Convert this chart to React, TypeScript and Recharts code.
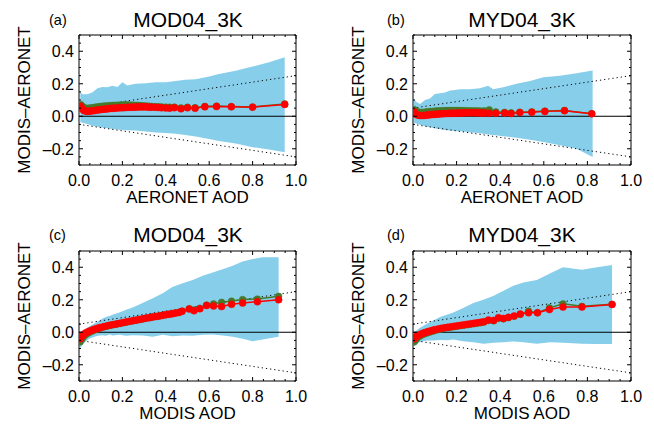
import React from 'react';
import { ComposedChart, Area, Line, XAxis, YAxis, ReferenceLine, Label } from 'recharts';

const FONT = "'Liberation Sans', Arial, Helvetica, sans-serif";

// axis ticks
const xTicks = [0, 0.05, 0.1, 0.15, 0.2, 0.25, 0.3, 0.35, 0.4, 0.45, 0.5, 0.55, 0.6, 0.65, 0.7, 0.75, 0.8, 0.85, 0.9, 0.95, 1.0];
const yTicks = [-0.3, -0.25, -0.2, -0.15, -0.1, -0.05, 0, 0.05, 0.1, 0.15, 0.2, 0.25, 0.3, 0.35, 0.4, 0.45, 0.5];
const xMajor = [0, 0.2, 0.4, 0.6, 0.8, 1.0];
const yMajor = [-0.2, 0, 0.2, 0.4];

// expected-error envelope
const eeX = [0, 1];
const eeUpper = [0.05, 0.25];
const eeLower = [-0.05, -0.25];

// panel (a)
const aBandX = [0.006, 0.015, 0.038, 0.061, 0.085, 0.108, 0.13, 0.154, 0.177, 0.2, 0.223, 0.26, 0.307, 0.353, 0.4, 0.445, 0.49, 0.538, 0.6, 0.645, 0.722, 0.8, 0.876, 0.948];
const aBandHi = [0.152, 0.135, 0.135, 0.146, 0.172, 0.18, 0.178, 0.187, 0.18, 0.21, 0.19, 0.2, 0.203, 0.21, 0.21, 0.217, 0.224, 0.228, 0.244, 0.26, 0.28, 0.306, 0.332, 0.363];
const aBandLo = [-0.035, -0.04, -0.047, -0.058, -0.064, -0.07, -0.074, -0.078, -0.082, -0.084, -0.086, -0.088, -0.094, -0.1, -0.103, -0.107, -0.115, -0.125, -0.14, -0.152, -0.168, -0.19, -0.205, -0.222];
const aLineX = [0.008, 0.015, 0.022, 0.03, 0.038, 0.046, 0.055, 0.065, 0.075, 0.085, 0.095, 0.105, 0.115, 0.125, 0.135, 0.145, 0.155, 0.165, 0.175, 0.185, 0.195, 0.205, 0.215, 0.225, 0.235, 0.245, 0.255, 0.265, 0.275, 0.285, 0.295, 0.305, 0.315, 0.325, 0.335, 0.35, 0.365, 0.38, 0.4, 0.418, 0.44, 0.47, 0.5, 0.535, 0.58, 0.634, 0.702, 0.8, 0.948];
const aRedY = [0.062, 0.045, 0.036, 0.032, 0.03, 0.031, 0.032, 0.034, 0.036, 0.038, 0.04, 0.042, 0.043, 0.045, 0.046, 0.048, 0.049, 0.05, 0.051, 0.052, 0.052, 0.053, 0.054, 0.055, 0.055, 0.056, 0.056, 0.057, 0.057, 0.058, 0.057, 0.058, 0.057, 0.056, 0.056, 0.055, 0.054, 0.052, 0.051, 0.05, 0.053, 0.046, 0.052, 0.049, 0.058, 0.06, 0.058, 0.056, 0.073];
const aGreenY = [0.072, 0.062, 0.054, 0.05, 0.049, 0.05, 0.052, 0.054, 0.056, 0.058, 0.06, 0.062, 0.063, 0.064, 0.065, 0.066, 0.067, 0.068, 0.068, 0.069, 0.069, 0.07, 0.07, 0.07, 0.069, 0.069, 0.068, 0.068, 0.067, 0.066, 0.065, 0.064, 0.063, 0.062, 0.061, 0.06, 0.059, 0.058, 0.057, 0.056, 0.057, 0.052, 0.056, 0.053, 0.061, 0.063, 0.06, 0.057, 0.076];

// panel (b)
const bBandX = [0.005, 0.014, 0.032, 0.055, 0.078, 0.1, 0.124, 0.147, 0.17, 0.193, 0.215, 0.26, 0.307, 0.345, 0.368, 0.414, 0.475, 0.537, 0.598, 0.674, 0.75, 0.824];
const bBandHi = [0.11, 0.09, 0.076, 0.1, 0.11, 0.137, 0.142, 0.146, 0.158, 0.162, 0.166, 0.166, 0.172, 0.187, 0.166, 0.178, 0.2, 0.217, 0.24, 0.25, 0.265, 0.281];
const bBandLo = [-0.04, -0.045, -0.053, -0.062, -0.068, -0.074, -0.08, -0.084, -0.088, -0.09, -0.092, -0.098, -0.105, -0.112, -0.116, -0.123, -0.133, -0.145, -0.158, -0.178, -0.2, -0.25];
const bLineX = [0.005, 0.012, 0.02, 0.03, 0.04, 0.05, 0.06, 0.07, 0.08, 0.09, 0.1, 0.11, 0.12, 0.13, 0.14, 0.15, 0.16, 0.17, 0.18, 0.19, 0.2, 0.21, 0.22, 0.23, 0.24, 0.25, 0.26, 0.27, 0.28, 0.29, 0.3, 0.31, 0.32, 0.33, 0.35, 0.38, 0.42, 0.45, 0.49, 0.545, 0.605, 0.695, 0.82];
const bRedY = [0.028, 0.015, 0.008, 0.005, 0.004, 0.005, 0.006, 0.008, 0.01, 0.011, 0.012, 0.013, 0.014, 0.015, 0.016, 0.017, 0.017, 0.018, 0.018, 0.019, 0.019, 0.02, 0.02, 0.02, 0.021, 0.021, 0.021, 0.022, 0.022, 0.021, 0.021, 0.02, 0.02, 0.02, 0.018, 0.018, 0.02, 0.017, 0.023, 0.025, 0.03, 0.034, 0.015];
const bGreenY = [0.042, 0.035, 0.028, 0.025, 0.024, 0.025, 0.027, 0.028, 0.03, 0.031, 0.032, 0.033, 0.034, 0.034, 0.035, 0.035, 0.036, 0.036, 0.036, 0.036, 0.036, 0.036, 0.035, 0.035, 0.035, 0.034, 0.034, 0.034, 0.033, 0.033, 0.033, 0.032, 0.032, 0.033, 0.04, 0.028, 0.025, 0.022, 0.025, 0.027, 0.032, 0.036, 0.016];

// panel (c)
const cBandX = [0.004, 0.017, 0.032, 0.047, 0.063, 0.078, 0.094, 0.109, 0.124, 0.14, 0.155, 0.186, 0.217, 0.247, 0.293, 0.34, 0.386, 0.43, 0.478, 0.524, 0.57, 0.616, 0.662, 0.708, 0.754, 0.8, 0.846, 0.92];
const cBandHi = [-0.005, 0.01, 0.022, 0.035, 0.047, 0.06, 0.073, 0.085, 0.094, 0.1, 0.108, 0.122, 0.139, 0.153, 0.18, 0.21, 0.24, 0.278, 0.302, 0.322, 0.347, 0.367, 0.388, 0.41, 0.435, 0.451, 0.461, 0.461];
const cBandLo = [-0.1, -0.075, -0.055, -0.04, -0.032, -0.024, -0.02, -0.018, -0.022, -0.014, -0.02, -0.016, -0.022, -0.018, -0.02, -0.028, -0.016, -0.024, -0.02, -0.022, -0.016, -0.014, -0.02, -0.028, -0.04, -0.055, -0.045, -0.028];
const cLineX = [0.005, 0.01, 0.015, 0.02, 0.03, 0.04, 0.05, 0.06, 0.07, 0.08, 0.09, 0.1, 0.115, 0.13, 0.145, 0.16, 0.175, 0.19, 0.205, 0.22, 0.235, 0.25, 0.265, 0.28, 0.295, 0.31, 0.325, 0.34, 0.355, 0.37, 0.385, 0.4, 0.415, 0.43, 0.445, 0.46, 0.475, 0.508, 0.53, 0.557, 0.588, 0.62, 0.657, 0.703, 0.754, 0.822, 0.92];
const cRedY = [-0.04, -0.03, -0.022, -0.015, -0.005, 0.002, 0.008, 0.013, 0.018, 0.022, 0.026, 0.03, 0.035, 0.04, 0.044, 0.048, 0.052, 0.056, 0.06, 0.064, 0.068, 0.072, 0.075, 0.079, 0.083, 0.087, 0.09, 0.094, 0.097, 0.1, 0.104, 0.108, 0.111, 0.114, 0.118, 0.122, 0.129, 0.143, 0.133, 0.145, 0.165, 0.162, 0.158, 0.172, 0.18, 0.188, 0.2];
const cGreenY = [-0.06, -0.048, -0.038, -0.03, -0.017, -0.008, 0.0, 0.006, 0.012, 0.017, 0.022, 0.026, 0.032, 0.037, 0.042, 0.046, 0.05, 0.054, 0.058, 0.062, 0.066, 0.07, 0.074, 0.078, 0.082, 0.086, 0.09, 0.094, 0.097, 0.1, 0.104, 0.108, 0.111, 0.114, 0.118, 0.122, 0.13, 0.145, 0.137, 0.148, 0.168, 0.175, 0.185, 0.192, 0.202, 0.205, 0.222];

// panel (d)
const dBandX = [0.005, 0.032, 0.063, 0.093, 0.124, 0.155, 0.185, 0.23, 0.277, 0.323, 0.37, 0.415, 0.46, 0.507, 0.568, 0.63, 0.688, 0.775, 0.844, 0.913];
const dBandHi = [0.0, 0.027, 0.053, 0.073, 0.094, 0.108, 0.122, 0.149, 0.18, 0.2, 0.224, 0.255, 0.286, 0.306, 0.322, 0.363, 0.4, 0.384, 0.4, 0.414];
const dBandLo = [-0.086, -0.06, -0.05, -0.051, -0.047, -0.049, -0.045, -0.055, -0.061, -0.07, -0.065, -0.061, -0.057, -0.061, -0.071, -0.061, -0.065, -0.07, -0.072, -0.073];
const dLineX = [0.005, 0.01, 0.015, 0.02, 0.03, 0.04, 0.05, 0.06, 0.07, 0.08, 0.09, 0.1, 0.115, 0.13, 0.145, 0.16, 0.175, 0.19, 0.205, 0.22, 0.235, 0.25, 0.265, 0.28, 0.295, 0.31, 0.325, 0.346, 0.37, 0.392, 0.415, 0.438, 0.464, 0.492, 0.53, 0.571, 0.626, 0.688, 0.775, 0.913];
const dRedY = [-0.04, -0.033, -0.027, -0.022, -0.015, -0.009, -0.004, 0.0, 0.004, 0.008, 0.012, 0.016, 0.02, 0.024, 0.028, 0.031, 0.034, 0.037, 0.04, 0.043, 0.046, 0.049, 0.052, 0.055, 0.058, 0.061, 0.065, 0.075, 0.073, 0.09, 0.085, 0.092, 0.1, 0.112, 0.12, 0.12, 0.14, 0.155, 0.155, 0.171];
const dGreenY = [-0.06, -0.05, -0.042, -0.035, -0.026, -0.018, -0.012, -0.007, -0.002, 0.002, 0.006, 0.01, 0.015, 0.02, 0.024, 0.028, 0.031, 0.034, 0.037, 0.04, 0.043, 0.046, 0.049, 0.052, 0.055, 0.058, 0.062, 0.072, 0.07, 0.085, 0.082, 0.09, 0.098, 0.11, 0.13, 0.12, 0.15, 0.175, 0.16, 0.172];

const BAND = '#87CEEB';
const RED = '#FF0000';
const GREEN = '#467A2A';

const TICK_FS = 16;
const LABEL_FS = 17;

const isMajor = (list: number[], v: number) => list.some((m) => Math.abs(m - v) < 1e-6);
const fmt = (v: number) => {
  const s = Math.abs(v).toFixed(1);
  return v < -1e-9 ? '\u2013' + s : s;
};

// tick renderers; x/y passed by the axis is the axis line position (tickSize = tickMargin = 0)
const BottomTick = (props: any) => {
  const { x, y, payload } = props;
  const major = isMajor(xMajor, payload.value);
  return (
    <g>
      <line x1={x} x2={x} y1={y} y2={y - (major ? 4 : 2)} stroke="#000" strokeWidth={1} />
      {major ? (
        <text x={x} y={y + 20.5} textAnchor="middle" fontSize={TICK_FS} fontFamily={FONT} fill="#000">
          {fmt(payload.value)}
        </text>
      ) : null}
    </g>
  );
};
const TopTick = (props: any) => {
  const { x, y, payload } = props;
  const major = isMajor(xMajor, payload.value);
  return <line x1={x} x2={x} y1={y} y2={y + (major ? 4 : 2)} stroke="#000" strokeWidth={1} />;
};
const LeftTick = (props: any) => {
  const { x, y, payload } = props;
  const major = isMajor(yMajor, payload.value);
  return (
    <g>
      <line x1={x} x2={x + (major ? 4 : 2)} y1={y} y2={y} stroke="#000" strokeWidth={1} />
      {major ? (
        <text x={x - 5} y={y + 5.8} textAnchor="end" fontSize={TICK_FS} fontFamily={FONT} fill="#000">
          {fmt(payload.value)}
        </text>
      ) : null}
    </g>
  );
};
const RightTick = (props: any) => {
  const { x, y, payload } = props;
  const major = isMajor(yMajor, payload.value);
  return <line x1={x} x2={x - (major ? 4 : 2)} y1={y} y2={y} stroke="#000" strokeWidth={1} />;
};

type PanelCfg = {
  left: number;
  top: number;
  margin: { top: number; right: number; bottom: number; left: number };
  xLabel: string;
  bandX: number[];
  bandLo: number[];
  bandHi: number[];
  lineX: number[];
  redY: number[];
  greenY: number[];
};

const panels: PanelCfg[] = [
  { left: 0, top: 0, margin: { top: 34, right: 30, bottom: 17, left: 5 }, xLabel: 'AERONET AOD', bandX: aBandX, bandLo: aBandLo, bandHi: aBandHi, lineX: aLineX, redY: aRedY, greenY: aGreenY },
  { left: 327, top: 0, margin: { top: 34, right: 22, bottom: 17, left: 12 }, xLabel: 'AERONET AOD', bandX: bBandX, bandLo: bBandLo, bandHi: bBandHi, lineX: bLineX, redY: bRedY, greenY: bGreenY },
  { left: 0, top: 212, margin: { top: 38, right: 30, bottom: 13, left: 5 }, xLabel: 'MODIS AOD', bandX: cBandX, bandLo: cBandLo, bandHi: cBandHi, lineX: cLineX, redY: cRedY, greenY: cGreenY },
  { left: 327, top: 212, margin: { top: 38, right: 22, bottom: 13, left: 12 }, xLabel: 'MODIS AOD', bandX: dBandX, bandLo: dBandLo, bandHi: dBandHi, lineX: dLineX, redY: dRedY, greenY: dGreenY },
];

const titles = [
  { text: 'MOD04_3K', tag: '(a)', cx: 188, tagX: 49, base: 27 },
  { text: 'MYD04_3K', tag: '(b)', cx: 522, tagX: 387, base: 27 },
  { text: 'MOD04_3K', tag: '(c)', cx: 188, tagX: 49, base: 242 },
  { text: 'MYD04_3K', tag: '(d)', cx: 522, tagX: 387, base: 242 },
];

function Panel({ cfg }: { cfg: PanelCfg }) {
  const band = cfg.bandX.map((x, i) => ({ x, range: [cfg.bandLo[i], cfg.bandHi[i]] }));
  const red = cfg.lineX.map((x, i) => ({ x, y: cfg.redY[i] }));
  const green = cfg.lineX.map((x, i) => ({ x, y: cfg.greenY[i] }));
  const up = eeX.map((x, i) => ({ x, y: eeUpper[i] }));
  const down = eeX.map((x, i) => ({ x, y: eeLower[i] }));
  return (
    <div style={{ position: 'absolute', left: cfg.left, top: cfg.top, width: 327, height: 212 }}>
      <ComposedChart width={327} height={212} margin={cfg.margin}>
        <XAxis
          xAxisId="x"
          type="number"
          dataKey="x"
          domain={[0, 1]}
          ticks={xTicks}
          interval={0}
          height={30}
          tickSize={0}
          tickMargin={0}
          tickLine={false}
          stroke="#000"
          axisLine={{ stroke: '#000', strokeWidth: 1 }}
          tick={(p: any) => <BottomTick {...p} />}
          allowDataOverflow
        >
          <Label value={cfg.xLabel} position="bottom" offset={-4.5} fontSize={LABEL_FS} fontFamily={FONT} fill="#000" />
        </XAxis>
        <XAxis
          xAxisId="t"
          orientation="top"
          type="number"
          dataKey="x"
          domain={[0, 1]}
          ticks={xTicks}
          interval={0}
          height={1}
          tickSize={0}
          tickMargin={0}
          tickLine={false}
          stroke="#000"
          axisLine={{ stroke: '#000', strokeWidth: 1 }}
          tick={(p: any) => <TopTick {...p} />}
          allowDataOverflow
        />
        <YAxis
          yAxisId="y"
          type="number"
          domain={[-0.3, 0.5]}
          ticks={yTicks}
          interval={0}
          width={74}
          tickSize={0}
          tickMargin={0}
          tickLine={false}
          stroke="#000"
          axisLine={{ stroke: '#000', strokeWidth: 1 }}
          tick={(p: any) => <LeftTick {...p} />}
          allowDataOverflow
        >
          <Label
            value={'MODIS\u2013AERONET'}
            angle={-90}
            position="insideLeft"
            offset={18.5}
            fontSize={LABEL_FS}
            fontFamily={FONT}
            fill="#000"
            style={{ textAnchor: 'middle' }}
          />
        </YAxis>
        <YAxis
          yAxisId="r"
          orientation="right"
          type="number"
          domain={[-0.3, 0.5]}
          ticks={yTicks}
          interval={0}
          width={1}
          tickSize={0}
          tickMargin={0}
          tickLine={false}
          stroke="#000"
          axisLine={{ stroke: '#000', strokeWidth: 1 }}
          tick={(p: any) => <RightTick {...p} />}
          allowDataOverflow
        />
        <Area
          xAxisId="x"
          yAxisId="y"
          data={band}
          dataKey="range"
          type="linear"
          stroke="none"
          fill={BAND}
          fillOpacity={1}
          dot={false}
          activeDot={false}
          isAnimationActive={false}
        />
        <ReferenceLine xAxisId="x" yAxisId="y" y={0} stroke="#000" strokeWidth={1} />
        <Line xAxisId="x" yAxisId="y" data={up} dataKey="y" type="linear" stroke="#000" strokeWidth={1} strokeDasharray="1.2 3" dot={false} activeDot={false} isAnimationActive={false} />
        <Line xAxisId="x" yAxisId="y" data={down} dataKey="y" type="linear" stroke="#000" strokeWidth={1} strokeDasharray="1.2 3" dot={false} activeDot={false} isAnimationActive={false} />
        <Line
          xAxisId="x"
          yAxisId="y"
          data={green}
          dataKey="y"
          type="linear"
          stroke={GREEN}
          strokeWidth={1.5}
          dot={{ r: 3.3, fill: GREEN, stroke: GREEN, strokeWidth: 0.5 }}
          activeDot={false}
          isAnimationActive={false}
        />
        <Line
          xAxisId="x"
          yAxisId="y"
          data={red}
          dataKey="y"
          type="linear"
          stroke={RED}
          strokeWidth={1.5}
          dot={{ r: 3.5, fill: RED, stroke: RED, strokeWidth: 0.5 }}
          activeDot={false}
          isAnimationActive={false}
        />
      </ComposedChart>
    </div>
  );
}

export default function App() {
  return (
    <div style={{ position: 'absolute', left: 0, top: 0, width: 654, height: 424, background: '#fff' }}>
      {panels.map((p, i) => (
        <Panel key={i} cfg={p} />
      ))}
      <svg width={654} height={424} style={{ position: 'absolute', left: 0, top: 0, pointerEvents: 'none' }}>
        {titles.map((t, i) => (
          <g key={i}>
            <text x={t.cx} y={t.base} textAnchor="middle" fontSize={21} fontFamily={FONT} fill="#000">
              {t.text}
            </text>
            <text x={t.tagX} y={t.base - 2} fontSize={14.5} fontFamily={FONT} fill="#000">
              {t.tag}
            </text>
          </g>
        ))}
      </svg>
    </div>
  );
}
